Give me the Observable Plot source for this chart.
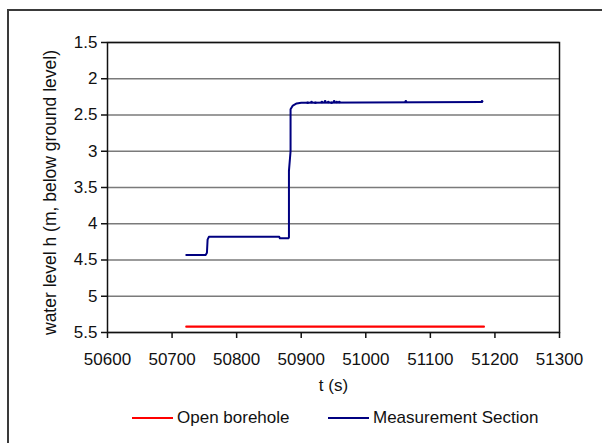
<!DOCTYPE html>
<html>
<head>
<meta charset="utf-8">
<script src="https://cdn.jsdelivr.net/npm/d3@7"></script>
<script src="https://cdn.jsdelivr.net/npm/@observablehq/plot@0.6"></script>
<style>
  html, body { margin: 0; padding: 0; background: #fff; }
  #wrap { position: relative; width: 602px; height: 443px; overflow: hidden; background: #fff;
          font-family: "Liberation Sans", Arial, sans-serif; }
  #border { position: absolute; left: 7px; top: 9px; width: 700px; height: 600px;
            border: 2px solid #3a3a3a; box-sizing: border-box; pointer-events: none; }
  #chart { position: absolute; left: 0; top: 0; }
  .leg { position: absolute; top: 407px; height: 22px; display: flex; align-items: center;
         font-size: 17px; color: #111; white-space: nowrap; }
  .leg .sw { width: 41px; height: 2px; margin-right: 4px; }
</style>
</head>
<body>
<div id="wrap">
  <div id="chart"></div>
  <div id="border"></div>
</div>
<script>
// --- data ---
const seriesNames = ["Open borehole", "Measurement Section"];
const seriesColors = ["#ff0000", "#000080"];

const boreholeT = [50722, 51183];
const boreholeH = [5.42, 5.42];

const measT = [50722, 50752, 50754, 50755, 50757, 50866, 50867, 50880, 50881, 50881, 50883.5, 50883.5, 50887, 50893, 50900, 51180];
const measH = [4.43, 4.43, 4.40, 4.22, 4.18, 4.18, 4.20, 4.20, 4.19, 3.27, 3.0, 2.42, 2.37, 2.34, 2.33, 2.32];

// small scattered markers on the flat part of the measurement curve
const markT = [50910, 50916, 50922, 50932, 50937, 50942, 50947, 50951, 50955, 50959, 51062, 51180];
const markH = [2.33, 2.32, 2.33, 2.32, 2.31, 2.32, 2.33, 2.31, 2.32, 2.32, 2.31, 2.31];

const xTicks = [50600, 50700, 50800, 50900, 51000, 51100, 51200, 51300];
const yTicks = [1.5, 2, 2.5, 3, 3.5, 4, 4.5, 5, 5.5];
const xLabel = "t (s)";
const yLabel = "water level h (m, below ground level)";

const borehole = boreholeT.map((t, i) => ({t, h: boreholeH[i]}));
const meas = measT.map((t, i) => ({t, h: measH[i]}));
const marks = markT.map((t, i) => ({t, h: markH[i]}));

const chart = Plot.plot({
  width: 602,
  height: 400,
  marginLeft: 107,
  marginRight: 43,
  marginTop: 42,
  marginBottom: 68,
  style: { fontFamily: "'Liberation Sans', Arial, sans-serif", fontSize: "17px", background: "transparent", color: "#111" },
  x: { domain: [50600, 51300] },
  y: { domain: [1.5, 5.5], reverse: true },
  marks: [
    Plot.gridY(yTicks, { stroke: "#7a7a7a", strokeOpacity: 1, strokeWidth: 1.5 }),
    Plot.line(borehole, { x: "t", y: "h", stroke: seriesColors[0], strokeWidth: 2.2 }),
    Plot.line(meas, { x: "t", y: "h", stroke: seriesColors[1], strokeWidth: 2, curve: "linear" }),
    Plot.dot(marks, { x: "t", y: "h", r: 1.3, fill: seriesColors[1], stroke: null }),
    Plot.frame({ stroke: "#111", strokeWidth: 1.5 }),
    Plot.axisX({ ticks: xTicks, tickFormat: d => String(d), tickSize: 6, tickPadding: 14, stroke: "#111", strokeWidth: 1.5, label: null }),
    Plot.axisY({ ticks: yTicks, tickFormat: d => String(d), tickSize: 6, tickPadding: 4, stroke: "#111", strokeWidth: 1.5, label: null }),
    Plot.text([xLabel], { frameAnchor: "bottom", dy: 53, text: d => d, textAnchor: "middle", lineAnchor: "middle", fontSize: 17, fill: "#111" }),
    Plot.text([yLabel], { frameAnchor: "left", dx: -57, dy: 5, rotate: -90, text: d => d, textAnchor: "middle", lineAnchor: "middle", fontSize: 17.5, fill: "#111" })
  ]
});
document.getElementById("chart").appendChild(chart);

// legend (HTML, below the plot area)
const wrap = document.getElementById("wrap");
const legLeft = [132, 328];
seriesNames.forEach((name, i) => {
  const d = document.createElement("div");
  d.className = "leg";
  d.style.left = legLeft[i] + "px";
  const sw = document.createElement("span");
  sw.className = "sw";
  sw.style.background = seriesColors[i];
  const tx = document.createElement("span");
  tx.textContent = name;
  d.appendChild(sw);
  d.appendChild(tx);
  wrap.appendChild(d);
});
</script>
</body>
</html>
